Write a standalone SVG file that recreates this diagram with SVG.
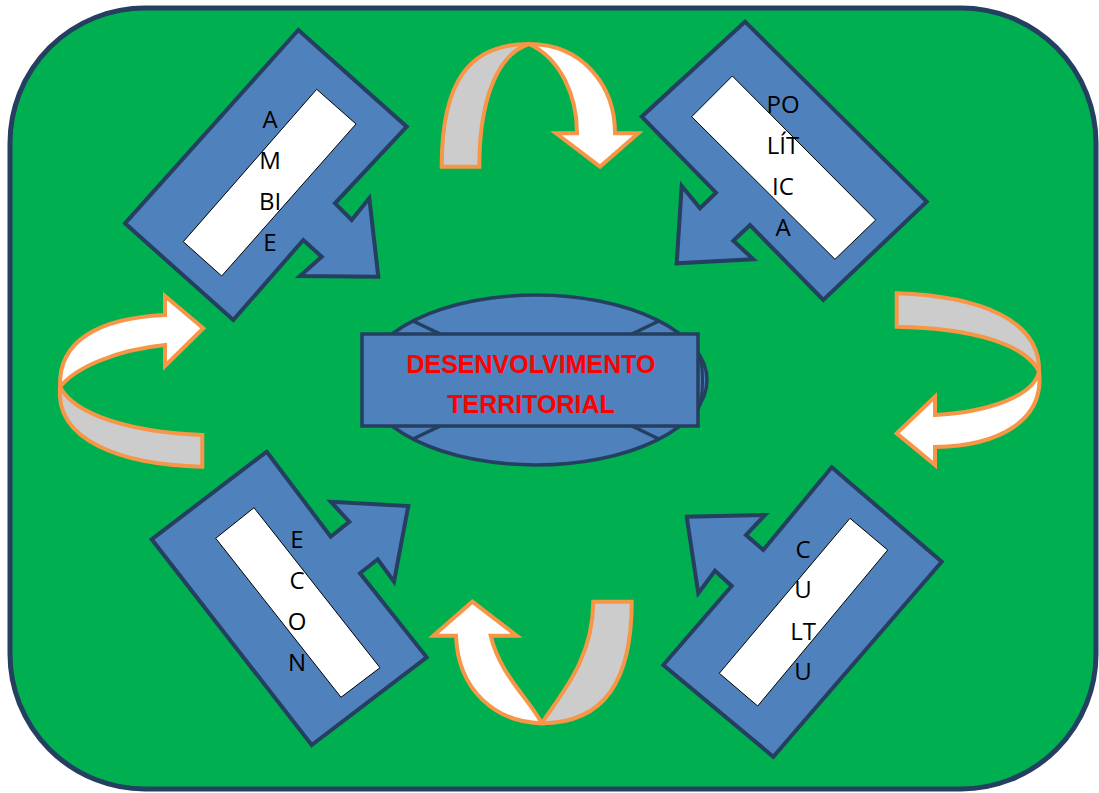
<svg xmlns="http://www.w3.org/2000/svg" width="1099" height="793" viewBox="0 0 1099 793">
<style>
.bg{fill:#00B050;stroke:#243F60;stroke-width:5}
.box{fill:#4F81BD;stroke:#243F60;stroke-width:4;stroke-linejoin:miter}
.lbl{fill:#FFFFFF;stroke:#000000;stroke-width:1}
.t{font-family:"Open Sans","DejaVu Sans",sans-serif;font-size:24px;fill:#000000;text-anchor:middle}
.back{fill:#CCCCCC;stroke:#F79646;stroke-width:4;stroke-linejoin:miter}
.front{fill:#FFFFFF;stroke:#F79646;stroke-width:4;stroke-linejoin:miter}
.ctr{fill:#4F81BD;stroke:#243F60;stroke-width:3.5}
.ct{font-family:"Liberation Sans",Arial,sans-serif;font-weight:bold;font-size:25px;fill:#FF0000;text-anchor:middle}
</style>
<rect class="bg" x="10" y="8" width="1086" height="781" rx="135" ry="135"/>

<g id="connectors">
  <g id="arrow-top">
    <path class="back" d="M441.7,166.7 C441.7,80 470,44 529,44 C495,55 479.3,105 479.3,166.7 Z"/>
    <path class="front" d="M529,44 C582,44 615,85 615,133.3 L638.3,133.3 L600,166.7 L556,133.3 L577,133.3 C577,95 560,58 529,44 Z"/>
  </g>
  <g id="arrow-right">
    <path class="back" d="M896.7,293.3 C980,296 1040,320 1039,371 C1025,345 975,328 896.7,326.7 Z"/>
    <path class="front" d="M1039,371 C1045,420 1000,446 935,447 L935,465 L896.7,433.3 L935,396.7 L935,415 C990,412 1035,395 1039,371 Z"/>
  </g>
  <g id="arrow-bottom">
    <path class="back" d="M541.7,723.3 C605,723 631.7,680 631.7,601.7 L593.3,601.7 C593,660 560,695 541.7,723.3 Z"/>
    <path class="front" d="M433.3,635.7 L472.3,601.7 L516.7,635.7 L490.7,635.7 C500,675 530,700 541.7,723.3 C495,722 458,690 456,635.7 Z"/>
  </g>
  <g id="arrow-left">
    <path class="back" d="M60,387 C55,440 120,465 202.3,466.7 L202.3,435 C130,432 75,415 60,387 Z"/>
    <path class="front" d="M60,387 C58,340 100,318 165,315 L165,296 L203.3,328.3 L165,366 L165,345 C115,350 75,368 60,387 Z"/>
  </g>
</g>

<g id="node-ambiente">
  <path class="box" d="M298.3,30 L406.7,126.7 L335,203.3 L351.7,220 L369.3,198.3 L378.3,276.7 L300,276 L321.7,256.7 L303.3,240 L233.3,320 L125,223.3 Z"/>
  <polygon class="lbl" points="316.7,89.3 356,124 221.7,276 183.3,241.7"/>
  <text class="t" x="270" y="128">A</text>
  <text class="t" x="270" y="169">M</text>
  <text class="t" x="270" y="210">BI</text>
  <text class="t" x="270" y="251">E</text>
</g>

<g id="node-politica">
  <path class="box" d="M745,21.7 L926.7,201.7 L823.3,300 L750,225 L733.3,240.7 L753.3,259.3 L676.7,263.3 L681.7,186 L700,208.3 L716,192.7 L641.7,116.7 Z"/>
  <polygon class="lbl" points="732.3,76 875.7,220 835,259.3 691.7,116.7"/>
  <text class="t" x="783" y="113">PO</text>
  <text class="t" x="783" y="154">LÍT</text>
  <text class="t" x="783" y="195">IC</text>
  <text class="t" x="783" y="236">A</text>
</g>

<g id="node-economia">
  <path class="box" d="M266.7,451.7 L330.7,536.7 L349.3,521.7 L330.7,501.7 L408.3,506 L394,581.7 L377.7,559.3 L360,573.3 L426.7,657.3 L311.7,745 L151.7,539.3 Z"/>
  <polygon class="lbl" points="254,507.7 380,667.7 341,697.3 215.7,538.3"/>
  <text class="t" x="297" y="548">E</text>
  <text class="t" x="297" y="589">C</text>
  <text class="t" x="297" y="630">O</text>
  <text class="t" x="297" y="671">N</text>
</g>

<g id="node-cultura">
  <path class="box" d="M831.7,467.3 L941.7,561.7 L773.3,756.7 L663.3,665 L731.7,586 L715,570.7 L698.3,593.3 L686.7,516.7 L765,515 L746,535 L763.3,550 Z"/>
  <polygon class="lbl" points="850,518.3 887.7,550 757.7,706 719.3,673.3"/>
  <text class="t" x="803" y="558">C</text>
  <text class="t" x="803" y="598">U</text>
  <text class="t" x="803" y="640">LT</text>
  <text class="t" x="803" y="680">U</text>
</g>

<g id="node-center">
  <ellipse class="ctr" cx="536" cy="380" rx="171" ry="85"/>
  <line x1="413" y1="321" x2="659" y2="439" stroke="#243F60" stroke-width="3.5"/>
  <line x1="659" y1="321" x2="413" y2="439" stroke="#243F60" stroke-width="3.5"/>
  <path d="M698,352 C704,365 704,397 698,410" fill="none" stroke="#243F60" stroke-width="3"/>
  <rect class="ctr" x="362" y="334" width="336" height="92" stroke-width="4"/>
  <text class="ct" x="531" y="373">DESENVOLVIMENTO</text>
  <text class="ct" x="531" y="413">TERRITORIAL</text>
</g>
</svg>
